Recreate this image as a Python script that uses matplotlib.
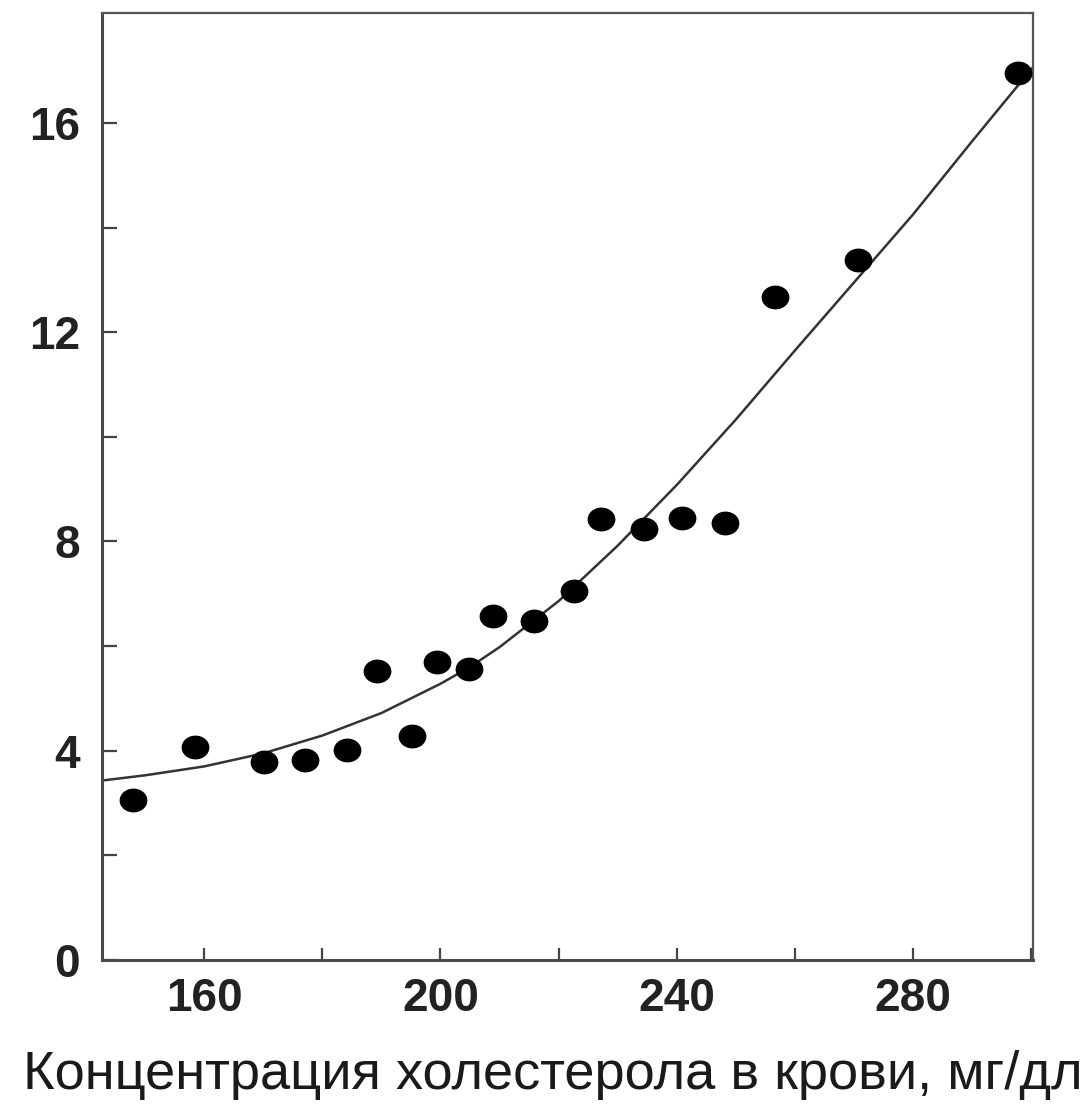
import numpy as np
import matplotlib
matplotlib.use("Agg")
import matplotlib.pyplot as plt
from matplotlib.path import Path
from matplotlib.transforms import Affine2D

plt.rcParams['font.family'] = ['Liberation Sans', 'DejaVu Sans']

# точки наблюдений
chol = [148.0, 158.4, 170.2, 177.0, 184.1, 189.2, 195.1, 199.4, 204.8, 208.9,
        215.9, 222.6, 227.2, 234.4, 240.8, 248.1, 256.6, 270.7, 297.7]
risk = [3.05, 4.07, 3.78, 3.82, 4.01, 5.53, 4.29, 5.69, 5.57, 6.58,
        6.48, 7.05, 8.43, 8.24, 8.45, 8.36, 12.67, 13.37, 16.96]

# кривая
curve_x = [142.7, 150, 160, 170, 180, 190, 200, 205, 210, 220, 230,
           240, 250, 260, 270, 280, 290, 300.2]
curve_y = [3.43, 3.53, 3.70, 3.95, 4.29, 4.72, 5.28, 5.60, 5.98, 6.86, 7.92,
           9.08, 10.33, 11.65, 12.95, 14.25, 15.65, 17.05]

x_major = [160, 200, 240, 280]
x_minor = [180, 220, 260, 300]
y_major = [0, 4, 8, 12, 16]
y_minor = [2, 6, 10, 14]

xlabel = "Концентрация холестерола в крови, мг/дл"

fig = plt.figure(figsize=(10.88, 11.04), dpi=100)
ax = fig.add_axes([102 / 1088, 1 - 960 / 1104, (1033 - 102) / 1088, (960 - 13) / 1104])

dot = Path.unit_circle().transformed(Affine2D().scale(1.0, 0.85))
ax.plot(curve_x, curve_y, color='#333333', lw=1.8, zorder=2)
ax.plot(chol, risk, linestyle='none', marker=dot, markersize=19,
        color='black', zorder=3)

ax.set_xlim(142.7, 300.3)
ax.set_ylim(0, 18.1)
ax.set_xticks(x_major)
ax.set_xticks(x_minor, minor=True)
ax.set_yticks(y_major)
ax.set_yticks(y_minor, minor=True)

ax.tick_params(which='both', direction='in', width=1.6, color='#444444',
               labelsize=33, labelcolor='#222222')
ax.tick_params(axis='y', which='both', length=11, pad=16)
ax.tick_params(axis='x', which='both', length=9, pad=12)
for lab in ax.get_xticklabels() + ax.get_yticklabels():
    lab.set_fontweight('bold')

for side in ['left', 'bottom']:
    ax.spines[side].set_linewidth(2.2)
    ax.spines[side].set_color('#4a4a4a')
for side in ['top', 'right']:
    ax.spines[side].set_linewidth(1.6)
    ax.spines[side].set_color('#555555')

t = fig.text(553 / 1088, 1 - 1075 / 1104, xlabel, ha='center', va='center',
             fontsize=32, color='#1a1a1a')
fig.canvas.draw()
w = t.get_window_extent().width
t.set_fontsize(32 * 1063 / w)

fig.savefig('out.png', dpi=100)
